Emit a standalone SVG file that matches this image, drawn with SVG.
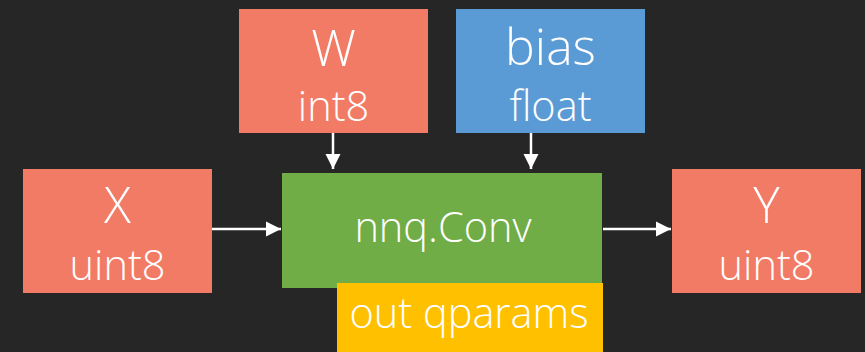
<svg xmlns="http://www.w3.org/2000/svg" width="865" height="352" viewBox="0 0 865 352">
<defs>
<style>
.t{font-family:"Open Sans","Lato","Liberation Sans",sans-serif;font-weight:300;fill:#ffffff;text-anchor:middle}
.big{font-size:50px}
.sm{font-size:41.5px}
.edge{stroke:#ffffff;stroke-width:2.5;fill:none;marker-end:url(#ah)}
</style>
<marker id="ah" viewBox="0 0 10 10" refX="10" refY="5" markerUnits="userSpaceOnUse" markerWidth="15" markerHeight="16" orient="auto">
<path d="M0,0 L10,5 L0,10 z" fill="#ffffff"/>
</marker>
</defs>
<rect width="865" height="352" fill="#262626"/>
<g id="W">
<rect x="239" y="9" width="189" height="124" fill="#f27b66"/>
<text class="t big" x="333.5" y="66">W</text>
<text class="t sm" x="333.5" y="121">int8</text>
</g>
<g id="bias">
<rect x="456" y="9" width="189" height="124" fill="#5b9bd5"/>
<text class="t big" x="550.5" y="65">bias</text>
<text class="t sm" x="550.5" y="121">float</text>
</g>
<g id="X">
<rect x="23" y="169" width="189" height="124" fill="#f27b66"/>
<text class="t big" x="117.5" y="223">X</text>
<text class="t sm" x="117.5" y="280">uint8</text>
</g>
<g id="conv">
<rect x="282" y="173" width="320" height="115" fill="#70ad47"/>
<text class="t sm" x="443" y="242">nnq.Conv</text>
</g>
<g id="qparams">
<rect x="337" y="283" width="266" height="69" fill="#ffc000"/>
<text class="t sm" x="469" y="328">out qparams</text>
</g>
<g id="Y">
<rect x="672" y="169" width="189" height="124" fill="#f27b66"/>
<text class="t big" x="766.5" y="223">Y</text>
<text class="t sm" x="766.5" y="280">uint8</text>
</g>
<g id="connectors">
<path class="edge" d="M333,133 L333,169"/>
<path class="edge" d="M531,133 L531,169"/>
<path class="edge" d="M212,229 L281,229"/>
<path class="edge" d="M603,229 L671,229"/>
</g>
</svg>
